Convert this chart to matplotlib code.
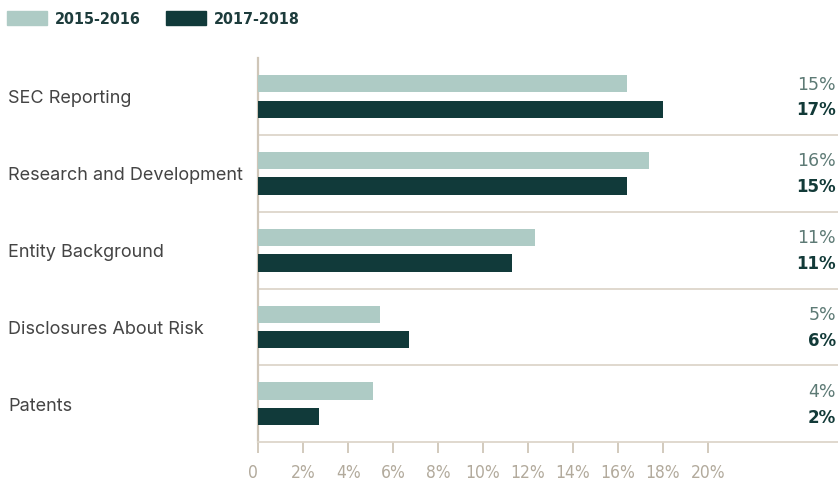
import matplotlib
matplotlib.use("Agg")
import matplotlib.pyplot as plt
from matplotlib.transforms import blended_transform_factory, ScaledTranslation
from matplotlib.patches import Rectangle
import numpy as np

categories = ["SEC Reporting", "Research and Development", "Entity Background",
              "Disclosures About Risk", "Patents"]
series_names = ["2015-2016", "2017-2018"]
values_2015 = [16.4, 17.4, 12.3, 5.4, 5.1]
values_2017 = [18.0, 16.4, 11.3, 6.7, 2.7]
labels_2015 = ["15%", "16%", "11%", "5%", "4%"]
labels_2017 = ["17%", "15%", "11%", "6%", "2%"]
xticks = [0, 2, 4, 6, 8, 10, 12, 14, 16, 18, 20]
xtick_labels = ["0", "2%", "4%", "6%", "8%", "10%", "12%", "14%", "16%", "18%", "20%"]

LIGHT = "#aecbc5"
DARK = "#113a3a"
GRID = "#ddd6ca"
AXIS = "#cfc6b8"
TICKC = "#b2aa9c"

W, H = 838, 489
fig = plt.figure(figsize=(W / 100, H / 100), dpi=100)
left_px, right_px, top_px, bottom_px = 258.3, 838, 59, 443.3
ax = fig.add_axes([left_px / W, 1 - bottom_px / H, (right_px - left_px) / W,
                   (bottom_px - top_px) / H])

y = np.arange(len(categories))
off = 0.167
h = 0.225
ax.barh(y - off, values_2015, height=h, color=LIGHT, zorder=3)
ax.barh(y + off, values_2017, height=h, color=DARK, zorder=3)

ax.set_ylim(len(categories) - 0.5, -0.5)
ax.set_xlim(0, (right_px - left_px) / 22.47)

for s in ["top", "right"]:
    ax.spines[s].set_visible(False)
ax.spines["left"].set_color(AXIS)
ax.spines["left"].set_linewidth(1.6)
ax.spines["bottom"].set_color(GRID)
ax.spines["bottom"].set_linewidth(1.3)

for yy in y[:-1] + 0.5:
    ax.axhline(yy, color=GRID, lw=1.3, zorder=1)

ax.set_yticks([])
ax.set_xticks(xticks)
ax.set_xticklabels(xtick_labels, family="DejaVu Sans", stretch="condensed",
                   fontsize=12.5, color=TICKC)
ax.tick_params(axis="x", length=8, width=1.3, color=AXIS, pad=7)
lbl0 = ax.get_xticklabels()[0]
lbl0.set_transform(lbl0.get_transform() + ScaledTranslation(-5 / 100, 0, fig.dpi_scale_trans))

tr = blended_transform_factory(fig.transFigure, ax.transData)
for i, c in enumerate(categories):
    ax.text(8 / W, y[i] + 0.02, c, transform=tr, ha="left", va="center",
            fontsize=13, color="#444444", family=["Inter", "DejaVu Sans"])
    ax.text(836 / W, y[i] - off, labels_2015[i], transform=tr, ha="right",
            va="center", fontsize=12.5, color="#5d7a75", family="DejaVu Sans")
    ax.text(836 / W, y[i] + off, labels_2017[i], transform=tr, ha="right",
            va="center", fontsize=12, color="#123a38", fontweight="bold",
            family="DejaVu Sans")

# legend (manual)
for (px, tx), name, col in zip([(7, 55), (166, 214)], series_names, [LIGHT, DARK]):
    fig.patches.append(Rectangle((px / W, 1 - 25.7 / H), 40 / W, 13.4 / H,
                                 transform=fig.transFigure, color=col))
    fig.text(tx / W, 1 - 19 / H, name, ha="left", va="center",
             family="DejaVu Sans", stretch="condensed", fontweight="bold",
             fontsize=11.5, color="#1d3c3c")

fig.savefig("out.png", dpi=100)
